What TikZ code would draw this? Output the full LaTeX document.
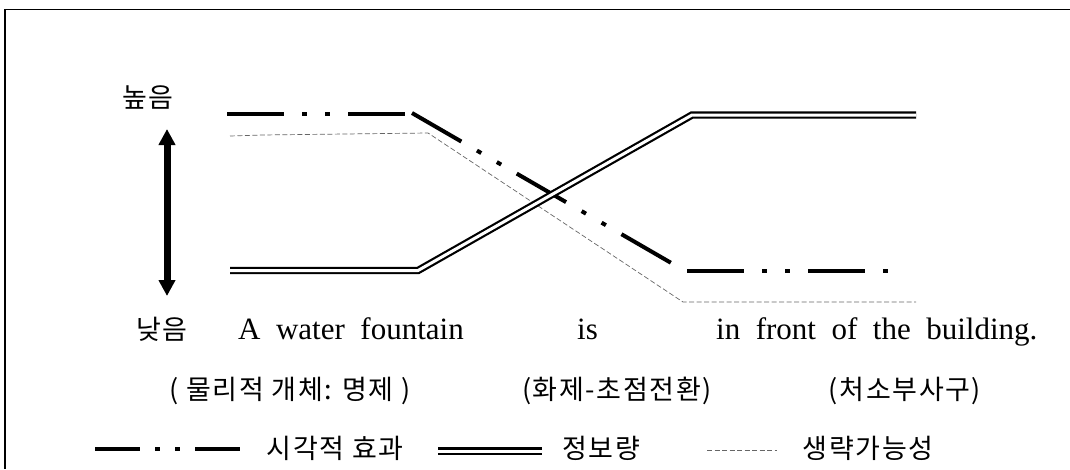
\documentclass[tikz,border=0pt]{standalone}
\usepackage{fontspec}
\usepackage{tikz}
\usetikzlibrary{arrows.meta}
\setmainfont{Liberation Serif}[WordSpace=2.0]
\newfontfamily\kor{Noto Sans CJK KR}[LetterSpace=6]
\tikzset{
  frameline/.style={line width=1.2pt, color=black},
  visline/.style={line width=4pt, dash pattern=on 57pt off 18pt on 5pt off 18pt on 5pt off 18pt},
  vislegend/.style={line width=3.5pt, dash pattern=on 45pt off 15pt on 5pt off 15pt on 5pt off 15pt},
  infoline/.style={double, line width=2.2pt, double distance=3pt, line join=miter},
  omitline/.style={line width=0.7pt, color=black!60, dash pattern=on 5pt off 2.5pt},
  korlabel/.style={inner sep=0pt, font=\kor\fontsize{27}{30}\selectfont},
  sentence/.style={inner sep=0pt, anchor=base west, font=\fontsize{31}{35}\selectfont},
  levelarrow/.style={line width=7pt, {Triangle[width=16pt,length=16pt]}-{Triangle[width=16pt,length=16pt]}}
}

\begin{document}
\begin{tikzpicture}[x=1pt, y=-1pt]
\useasboundingbox (0,0) rectangle (1070,469);
\coordinate (frametl) at (5,9.5);
\coordinate (frametr) at (1070,9.5);
\coordinate (framebl) at (5,469);
\draw[frameline] (frametr) -- (frametl) -- (framebl);

\node (high) [korlabel] at (148,97)  {높음};
\node (low)  [korlabel] at (162,329) {낮음};
\coordinate (arrtop) at (167,129);
\coordinate (arrbot) at (167,296);
\draw[levelarrow] (arrbot) -- (arrtop);

\coordinate (vis1) at (227,114);
\coordinate (vis2) at (406,114);
\coordinate (vis3) at (412,113);
\coordinate (vis4) at (673,264);
\coordinate (vis5) at (687,271);
\coordinate (vis6) at (889,271);
\draw[visline] (vis1) -- (vis2);
\draw[visline] (vis3) -- (vis4);
\draw[visline] (vis5) -- (vis6);

\coordinate (omit1) at (230,136);
\coordinate (omit2) at (262,135);
\coordinate (omit3) at (428,133);
\coordinate (omit4) at (683,302);
\coordinate (omit5) at (916,302);
\draw[omitline] (omit1) -- (omit2) -- (omit3) -- (omit4) -- (omit5);

\coordinate (info1) at (230,270.5);
\coordinate (info2) at (418,270.5);
\coordinate (info3) at (692,115);
\coordinate (info4) at (916,115);
\draw[infoline] (info1) -- (info2) -- (info3) -- (info4);

\node (subj) [sentence] at (238,339) {A water fountain};
\node (verb) [sentence] at (577,339) {is};
\node (loc)  [sentence] at (716,339) {in front of the building.};

\node (subjrole) [korlabel] at (290,391) {( 물리적 개체: 명제 )};
\node (verbrole) [korlabel] at (617,391) {(화제-초점전환)};
\node (locrole)  [korlabel] at (905,391) {(처소부사구)};

\coordinate (legvis1) at (95,449);
\coordinate (legvis2) at (242,449);
\draw[vislegend] (legvis1) -- (legvis2);
\node (legvistext) [korlabel] at (335,448) {시각적 효과};
\coordinate (leginfo1) at (438,451);
\coordinate (leginfo2) at (542,451);
\draw[infoline] (leginfo1) -- (leginfo2);
\node (leginfotext) [korlabel] at (601,448) {정보량};
\coordinate (legomit1) at (707,450);
\coordinate (legomit2) at (777,450);
\draw[omitline] (legomit1) -- (legomit2);
\node (legomittext) [korlabel] at (868,448) {생략가능성};
\end{tikzpicture}
\end{document}
